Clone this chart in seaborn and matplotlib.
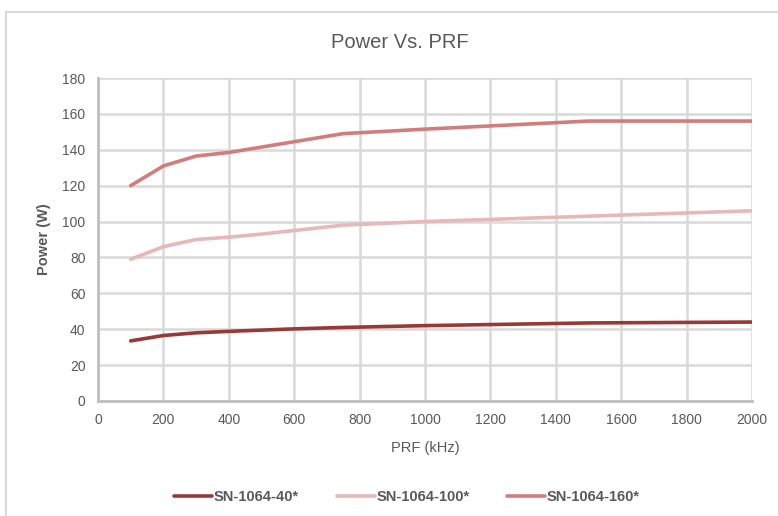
import matplotlib
matplotlib.use("Agg")
import matplotlib.pyplot as plt
import seaborn as sns
import pandas as pd
from matplotlib.patches import Rectangle

prf = [100, 200, 300, 400, 500, 600, 750, 1000, 1500, 2000]
sn40 = [33.5, 36.5, 38, 38.8, 39.5, 40.2, 41, 42, 43.5, 44]
sn100 = [79, 86, 90, 91.3, 93, 95, 98, 100, 103, 106]
sn160 = [120, 131, 136.5, 138.5, 141.5, 144.5, 149, 151.5, 156, 156]
series_names = ["SN-1064-40*", "SN-1064-100*", "SN-1064-160*"]
colors = ["#993936", "#e6b8b7", "#d07d7b"]
x_ticks = list(range(0, 2001, 200))
y_ticks = list(range(0, 181, 20))

df = pd.concat([
    pd.DataFrame({"PRF": prf, "Power": v, "Model": n})
    for v, n in zip([sn40, sn100, sn160], series_names)
])

sns.set_theme(style="white")
plt.rcParams["font.family"] = ["Liberation Sans", "DejaVu Sans"]

W, H = 778, 516
fig = plt.figure(figsize=(W / 100, H / 100), dpi=100)
ax = fig.add_axes([98 / W, (H - 401) / H, (752 - 98) / W, (401 - 78) / H])

# chart border
fig.patches.append(Rectangle((6 / W, -0.1), 1.2, (H - 12) / H + 0.1,
                             transform=fig.transFigure, fill=False,
                             edgecolor="#d9d9d9", linewidth=1.5))

sns.lineplot(data=df, x="PRF", y="Power", hue="Model", palette=colors,
             linewidth=2.6, ax=ax, legend=False)

ax.set_xlim(0, 2000)
ax.set_ylim(0, 180)
ax.set_xticks(x_ticks)
ax.set_yticks(y_ticks)
ax.grid(True, color="#d9d9d9", linewidth=1.8)
ax.set_axisbelow(True)
for s in ["top", "right"]:
    ax.spines[s].set_visible(False)
ax.spines["left"].set_color("#bfbfbf")
ax.spines["left"].set_linewidth(2)
ax.spines["bottom"].set_color("#bfbfbf")
ax.spines["bottom"].set_linewidth(2)
ax.tick_params(axis="both", length=0, labelsize=10, colors="#595959", pad=9)
ax.set_xlabel("PRF (kHz)", fontsize=10.5, color="#595959", labelpad=10)
ax.set_ylabel("Power (W)", fontsize=10.5, color="#595959", fontweight="bold",
              labelpad=8)
fig.text(400 / W, 1 - 42 / H, "Power Vs. PRF", ha="center", va="center",
         fontsize=14.5, color="#595959")

handles = [plt.Line2D([], [], color=c, linewidth=2.6) for c in colors]
fig.legend(handles, series_names, loc="center", bbox_to_anchor=(407 / W, 1 - 497 / H),
           ncol=3, frameon=False, handlelength=2.6, handletextpad=0.1,
           columnspacing=2.6,
           prop={"weight": "bold", "size": 10.5},
           labelcolor="#595959")

fig.savefig("out.png", dpi=100)
